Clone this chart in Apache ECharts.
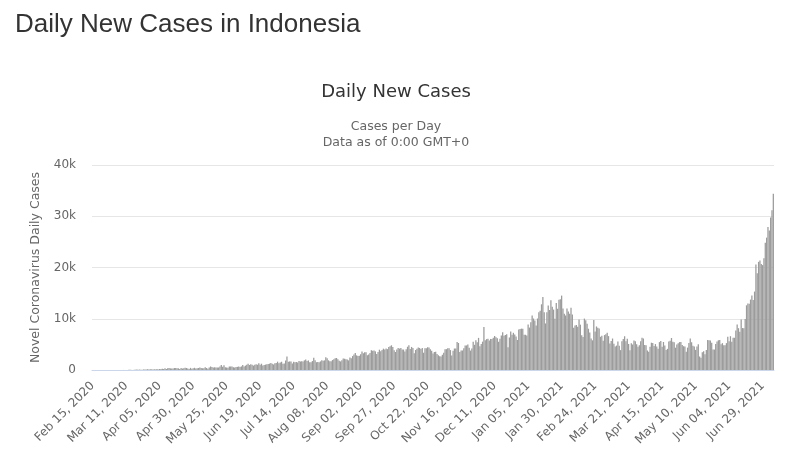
<!DOCTYPE html>
<html>
<head>
<meta charset="utf-8">
<title>Daily New Cases in Indonesia</title>
<script src="https://cdn.jsdelivr.net/npm/echarts@6/dist/echarts.min.js"></script>
<style>
  html, body { margin: 0; padding: 0; background: #fff; }
  #main { width: 792px; height: 462px; }
</style>
</head>
<body>
<div id="main"></div>
<script>
// daily new cases, one array per month
var feb2020 = [0,0,0,0,0,0,0,0,0,0,0,0,0,0,0];
var mar2020 = [0,2,0,0,0,2,0,2,13,8,7,0,35,27,21,17,38,55,82,60,81,64,65,107,104,103,153,109,130,129,114];
var apr2020 = [149,113,196,106,181,218,247,218,337,219,330,399,316,282,297,380,407,325,327,185,375,283,357,436,396,275,214,415,260,347];
var may2020 = [433,292,349,395,484,367,338,336,533,387,233,484,689,568,490,529,489,496,486,693,973,634,949,526,479,415,686,687,700,557,467];
var jun2020 = [609,609,684,585,703,993,672,847,1043,1241,979,1111,1014,857,1017,1106,1031,1331,1041,1226,862,954,1051,1113,1178,1240,1385,1198,1082,1293];
var jul2020 = [1385,1624,1301,1447,1607,1209,1268,1853,2657,1611,1671,1681,1282,1591,1522,1574,1462,1752,1639,1693,1655,1882,2040,1761,1868,1492,1525,1748,2381,1904,1519];
var aug2020 = [1560,1519,1679,1922,1815,1882,2473,2277,1893,1687,1693,1942,2098,2307,2345,2081,1821,1673,1902,2266,2197,2094,2037,1877,2447,2306,2719,3003,3308,2858,2743];
var sep2020 = [2775,3075,3622,3269,3444,3444,2880,3046,3307,3861,3737,3806,3636,3141,3507,3963,3635,3891,4168,3989,4176,4071,4465,4634,4823,4494,3874,3509,4002,4284];
var oct2020 = [4174,4317,4007,3992,3622,4056,4538,4850,4094,4497,4294,3267,3906,4127,4411,4301,4105,4301,3373,4267,4267,4432,4369,4070,3732,3222,3520,3565,3143,2897,2696];
var nov2020 = [2618,2973,3356,4065,4065,4262,4262,3880,2853,3779,4192,4173,5444,5272,3535,3807,3807,4265,4798,4792,4998,4360,3787,4192,5534,4917,5828,5418,6267,4617];
var dec2020 = [5092,5533,8369,5803,6027,6089,5754,6058,6033,6310,6633,6388,6189,5489,6120,6725,7354,6689,6848,6982,4442,6347,7514,6895,7259,6923,6528,5854,7903,8002,8074];
var jan2021 = [8072,6877,6877,6753,8854,8280,9321,10617,10046,9640,8692,10047,11278,11557,12818,14224,11287,9086,11287,12568,11703,13632,12320,11788,9994,13094,11948,13695,13802,14518,12001];
var feb2021 = [10994,10614,11984,11434,10970,12156,10827,8242,8700,8776,8435,9869,8844,6765,6462,10029,9687,9039,8054,7300,6156,5789,9775,7533,8493,8232,8112,6480];
var mar2021 = [6680,5712,6808,6971,7264,6614,5173,5647,6146,5144,4607,4770,5559,4714,3883,5592,6039,6585,5633,6093,5083,3830,5227,4974,5735,5589,5008,4523,4811,5620,6293];
var apr2021 = [6142,4860,4844,3812,3579,4549,5325,5265,4678,5061,4585,4127,5444,5656,4533,5469,4801,3917,4124,5549,5720,6243,5535,5436,4356,4952,5241,5444,5444,4902];
var may2021 = [4640,4604,3565,4369,5285,6130,5416,4722,4606,3922,4608,5012,2633,2385,3448,3680,3080,3918,5840,5797,5746,5296,3989,3992,5060,5560,5797,5862,5001,5242,4824];
var jun2021 = [4824,5246,6486,5591,6594,5505,6294,6294,7725,8892,8161,7465,9868,8189,8161,9944,12624,12990,12906,13737,14536,13668,15308,20574,18872,21095,21342,20694,20467,21807];
var jul2021 = [24836,25830,27913,27233,29745,31189,34379];

var cases = [].concat(feb2020, mar2020, apr2020, may2020, jun2020, jul2020, aug2020,
  sep2020, oct2020, nov2020, dec2020, jan2021, feb2021, mar2021, apr2021, may2021,
  jun2021, jul2021);

// one category per day, from Feb 15, 2020
var monthNames = ['Jan','Feb','Mar','Apr','May','Jun','Jul','Aug','Sep','Oct','Nov','Dec'];
var days = [];
for (var i = 0; i < cases.length; i++) {
  var d = new Date(Date.UTC(2020, 1, 15 + i));
  var dd = d.getUTCDate();
  days.push(monthNames[d.getUTCMonth()] + ' ' + (dd < 10 ? '0' + dd : dd) + ', ' + d.getUTCFullYear());
}

var yTicks = [0, 10000, 20000, 30000, 40000];

var chart = echarts.init(document.getElementById('main'), null, { renderer: 'canvas' });
var font = 'DejaVu Sans';
var option = {
  animation: false,
  textStyle: { fontFamily: font },
  title: [{
    text: 'Daily New Cases in Indonesia',
    left: 10,
    top: 7,
    textStyle: { fontFamily: 'Liberation Sans', fontSize: 26, fontWeight: 'normal', color: '#333' }
  }, {
    text: 'Daily New Cases',
    subtext: 'Cases per Day\nData as of 0:00 GMT+0',
    left: 'center',
    top: 78,
    itemGap: 18,
    textStyle: { fontFamily: font, fontSize: 18, fontWeight: 'normal', color: '#333' },
    subtextStyle: { fontFamily: font, fontSize: 12.5, color: '#666', lineHeight: 16 }
  }],
  grid: { left: 92, right: 18, top: 165, bottom: 92 },
  xAxis: {
    type: 'category',
    data: days,
    axisLine: { lineStyle: { color: '#ccd6eb' } },
    axisTick: { show: false },
    axisLabel: {
      interval: 24,
      rotate: 45,
      fontFamily: font,
      fontSize: 12,
      color: '#666',
      margin: 14
    }
  },
  yAxis: {
    type: 'value',
    min: yTicks[0],
    max: yTicks[yTicks.length - 1],
    interval: 10000,
    name: 'Novel Coronavirus Daily Cases',
    nameLocation: 'middle',
    nameRotate: 90,
    nameGap: 50,
    nameTextStyle: { fontFamily: font, fontSize: 12.5, color: '#666' },
    axisLine: { show: false },
    axisTick: { show: false },
    splitLine: { lineStyle: { color: '#e6e6e6' } },
    axisLabel: {
      fontFamily: font,
      fontSize: 12,
      color: '#666',
      margin: 16,
      formatter: function (v) { return v === 0 ? '0' : (v / 1000) + 'k'; }
    }
  },
  series: [{
    name: 'Daily Cases',
    type: 'bar',
    data: cases,
    barCategoryGap: '5%',
    itemStyle: { color: '#9c9c9c' }
  }]
};
chart.setOption(option);
</script>
</body>
</html>
